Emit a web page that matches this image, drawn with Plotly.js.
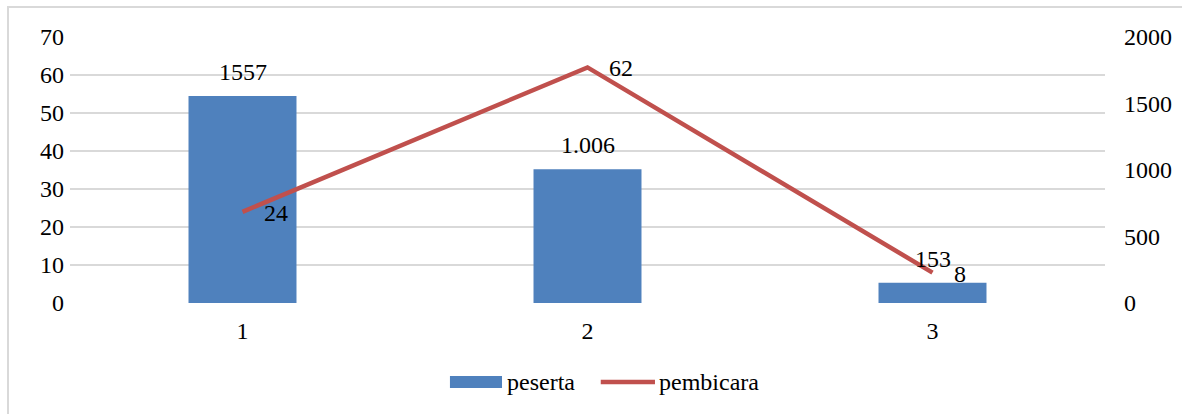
<!DOCTYPE html>
<html>
<head>
<meta charset="utf-8">
<script src="https://cdn.plot.ly/plotly-3.0.1.min.js"></script>
<style>
  html, body { margin: 0; padding: 0; background: #fff; overflow: hidden; }
  #frame { position: absolute; left: 7px; top: 6px; width: 1300px; height: 500px;
           border-left: 2px solid #d9d9d9; border-top: 2px solid #d9d9d9; pointer-events: none; }
  #chart { position: absolute; left: 0; top: 0; width: 1182px; height: 414px; }
</style>
</head>
<body>
<div id="chart"></div>
<div id="frame"></div>
<script>
// Categories and series
const categories = ['1', '2', '3'];
const pesertaValues = [1557, 1006, 153];
const pesertaLabels = ['1557', '1.006', '153'];
const pembicaraValues = [24, 62, 8];
const pembicaraLabels = ['24', '62', '8'];

const seriesNames = ['peserta', 'pembicara'];
const barColor = '#4F81BD';
const lineColor = '#C0504D';
const fontFamily = 'Liberation Serif, Times New Roman, serif';
const fontSize = 24;

// Bars use the primary (right-hand) axis; the line uses the overlaying
// left-hand axis so it is drawn above the bars.
const traces = [
  {
    type: 'bar',
    name: seriesNames[0],
    x: categories,
    y: pesertaValues,
    yaxis: 'y',
    width: 0.313,
    marker: { color: barColor },
    hoverinfo: 'x+y'
  },
  {
    type: 'scatter',
    mode: 'lines',
    name: seriesNames[1],
    x: categories,
    y: pembicaraValues,
    yaxis: 'y2',
    line: { color: lineColor, width: 4.5 },
    hoverinfo: 'x+y'
  }
];

// Value labels: above bars, to the right of line points.
// On a category axis, annotation x is the category's position index.
const annotations = [];
categories.forEach((c, i) => {
  annotations.push({
    x: i, y: pesertaValues[i], xref: 'x', yref: 'y',
    text: pesertaLabels[i], showarrow: false,
    xanchor: 'center', yanchor: 'bottom', yshift: 9,
    font: { family: fontFamily, size: fontSize, color: '#000' }
  });
  annotations.push({
    x: i, y: pembicaraValues[i], xref: 'x', yref: 'y2',
    text: pembicaraLabels[i], showarrow: false,
    xanchor: 'left', yanchor: 'middle', xshift: 19, yshift: -1,
    font: { family: fontFamily, size: fontSize, color: '#000' }
  });
});

// Legend row below the plot
const shapes = [
  { type: 'rect', xref: 'paper', yref: 'paper',
    x0: 0.3671, x1: 0.4174, y0: -0.3195, y1: -0.2744,
    fillcolor: barColor, line: { width: 0 } },
  { type: 'line', xref: 'paper', yref: 'paper',
    x0: 0.5128, x1: 0.5652, y0: -0.297, y1: -0.297,
    line: { color: lineColor, width: 4.5 } }
];
annotations.push({
  x: 0.4203, y: -0.297, xref: 'paper', yref: 'paper', text: seriesNames[0],
  showarrow: false, xanchor: 'left', yanchor: 'middle',
  font: { family: fontFamily, size: fontSize, color: '#000' }
});
annotations.push({
  x: 0.5671, y: -0.297, xref: 'paper', yref: 'paper', text: seriesNames[1],
  showarrow: false, xanchor: 'left', yanchor: 'middle',
  font: { family: fontFamily, size: fontSize, color: '#000' }
});

const layout = {
  width: 1182,
  height: 414,
  margin: { l: 70, r: 77, t: 37, b: 111, pad: 0 },
  paper_bgcolor: '#fff',
  plot_bgcolor: '#fff',
  showlegend: false,
  font: { family: fontFamily, size: fontSize, color: '#000' },
  xaxis: {
    type: 'category',
    range: [-0.5, 2.5],
    showgrid: false,
    zeroline: false,
    showline: false,
    ticks: '',
    ticklabelstandoff: 11,
    tickfont: { family: fontFamily, size: fontSize, color: '#000' }
  },
  yaxis: {
    range: [0, 2000],
    dtick: 500,
    side: 'right',
    showgrid: false,
    zeroline: false,
    showline: false,
    ticks: '',
    ticklabelstandoff: 18,
    tickfont: { family: fontFamily, size: fontSize, color: '#000' }
  },
  yaxis2: {
    range: [0, 70],
    dtick: 10,
    overlaying: 'y',
    side: 'left',
    showgrid: true,
    gridcolor: '#d9d9d9',
    gridwidth: 1.5,
    zeroline: false,
    showline: false,
    ticks: '',
    ticklabelstandoff: 5,
    tickfont: { family: fontFamily, size: fontSize, color: '#000' }
  },
  shapes: shapes,
  annotations: annotations
};

Plotly.newPlot('chart', traces, layout, { displayModeBar: false, staticPlot: true });
</script>
</body>
</html>
